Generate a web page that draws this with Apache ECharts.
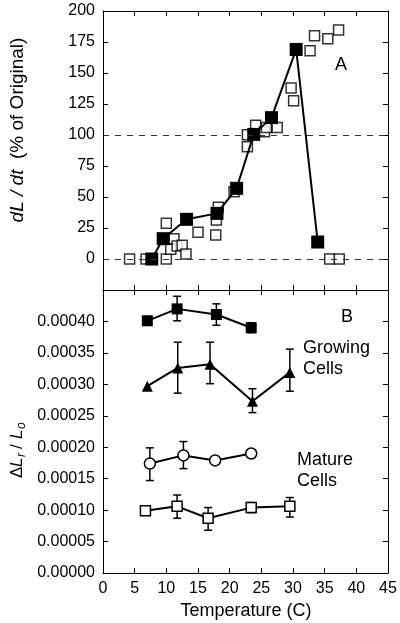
<!DOCTYPE html>
<html><head><meta charset="utf-8">
<script src="https://cdn.jsdelivr.net/npm/echarts@6/dist/echarts.min.js"></script>
<style>html,body{margin:0;padding:0;background:#fff}#c{width:400px;height:623px}</style>
</head><body><div id="c"></div>
<script>
// Panel A
const xTicks = [0,5,10,15,20,25,30,35,40,45];
const aOpenX = [4.2, 6.8, 10.0, 10.0, 10.7, 11.2, 11.7, 12.5, 13.1, 15.0, 17.8, 17.9, 18.2, 20.7, 22.8, 22.8, 24.1, 25.5, 25.8, 27.5, 29.7, 30.1, 32.7, 33.4, 35.5, 37.2, 35.8, 37.3];
const aOpenY = [0, 0, 28.8, 0, 7.8, 16.4, 10.5, 11, 4, 21.5, 19.4, 31.5, 41.7, 54.3, 90.6, 100.3, 107.8, 102.7, 106, 106, 138, 127.7, 168, 180, 177.7, 184.7, 0, 0];
const aFillX = [7.7, 9.5, 13.2, 18.0, 21.1, 23.8, 26.6, 30.5, 33.9];
const aFillY = [0, 16.4, 32, 36.8, 57, 100.5, 114, 169, 13.7];
const aRefLines = [0, 100];
// Panel B
const gSqX = [7.0, 11.7, 17.9, 23.4];
const gSqY = [0.000401, 0.000420, 0.000411, 0.000390];
const gSqLo = [0.000394, 0.000401, 0.000394, 0.000382];
const gSqHi = [0.000408, 0.000440, 0.000428, 0.000398];
const gTriX = [7.0, 11.8, 16.9, 23.6, 29.5];
const gTriY = [0.000297, 0.000326, 0.000332, 0.000273, 0.000319];
const gTriLo = [null, 0.000286, 0.000301, 0.000255, 0.000289];
const gTriHi = [null, 0.000367, 0.000367, 0.000293, 0.000356];
const mCirX = [7.4, 12.7, 17.7, 23.4];
const mCirY = [0.000174, 0.000187, 0.000179, 0.000190];
const mCirLo = [0.000147, 0.000166, null, 0.000184];
const mCirHi = [0.000199, 0.000209, null, 0.000195];
const mSqX = [6.7, 11.7, 16.6, 23.4, 29.5];
const mSqY = [0.000099, 0.000106, 0.000087, 0.000104, 0.000106];
const mSqLo = [null, 0.000087, 0.000068, 0.000096, 0.000089];
const mSqHi = [null, 0.000124, 0.000104, 0.000112, 0.000120];

const FONT = 'Liberation Sans, Arial, Helvetica, sans-serif';
const zip = (xs, ys) => xs.map((x, i) => [x, ys[i]]);
const errData = (xs, lo, hi) => xs.map((x, i) => [x, lo[i], hi[i]]).filter(d => d[1] != null);

function errSeries(xs, lo, hi) {
  return {
    type: 'custom', xAxisIndex: 2, yAxisIndex: 2, z: 1,
    data: errData(xs, lo, hi),
    renderItem: function (params, api) {
      const p1 = api.coord([api.value(0), api.value(1)]);
      const p2 = api.coord([api.value(0), api.value(2)]);
      const w = 4;
      const st = { stroke: '#000', lineWidth: 1.5 };
      return { type: 'group', children: [
        { type: 'line', shape: { x1: p1[0], y1: p1[1], x2: p2[0], y2: p2[1] }, style: st },
        { type: 'line', shape: { x1: p1[0]-w, y1: p1[1], x2: p1[0]+w, y2: p1[1] }, style: st },
        { type: 'line', shape: { x1: p2[0]-w, y1: p2[1], x2: p2[0]+w, y2: p2[1] }, style: st }
      ]};
    }
  };
}

const axLine = { show: true, onZero: false, lineStyle: { color: '#000', width: 1 } };
const tick = { show: true, inside: true, length: 5, lineStyle: { color: '#000', width: 1 } };
const xBase = { type: 'value', min: 0, max: 45, interval: 5, axisLine: axLine, axisTick: tick, splitLine: { show: false } };

const chart = echarts.init(document.getElementById('c'), null, { renderer: 'canvas' });
chart.setOption({
  animation: false,
  backgroundColor: '#fff',
  textStyle: { fontFamily: FONT },
  grid: [
    { left: 103, right: 12, top: 11, height: 279 },
    { left: 103, right: 12, top: 290, height: 283 }
  ],
  xAxis: [
    Object.assign({}, xBase, { gridIndex: 0, position: 'bottom', axisLabel: { show: false } }),
    Object.assign({}, xBase, { gridIndex: 0, position: 'top', axisLabel: { show: false } }),
    Object.assign({}, xBase, { gridIndex: 1, position: 'bottom', axisLabel: { show: true, color: '#000', fontSize: 16, fontFamily: FONT, margin: 8 } }),
    Object.assign({}, xBase, { gridIndex: 1, position: 'top', axisLabel: { show: false } })
  ],
  yAxis: [
    { type: 'value', gridIndex: 0, position: 'left', min: -25, max: 200, interval: 25, axisLine: axLine, axisTick: tick, splitLine: { show: false },
      axisLabel: { color: '#000', fontSize: 16, fontFamily: FONT, margin: 8, formatter: v => v < 0 ? '' : String(v) } },
    { type: 'value', gridIndex: 0, position: 'right', min: -25, max: 200, interval: 25, axisLine: axLine, axisTick: tick, splitLine: { show: false }, axisLabel: { show: false } },
    { type: 'value', gridIndex: 1, position: 'left', min: 0, max: 0.00045, interval: 0.00005, axisLine: axLine, axisTick: tick, splitLine: { show: false },
      axisLabel: { color: '#000', fontSize: 16, fontFamily: FONT, margin: 8, formatter: v => v > 0.000441 ? '' : v.toFixed(5) } },
    { type: 'value', gridIndex: 1, position: 'right', min: 0, max: 0.00045, interval: 0.00005, axisLine: axLine, axisTick: tick, splitLine: { show: false }, axisLabel: { show: false } }
  ],
  series: [
    { type: 'scatter', xAxisIndex: 0, yAxisIndex: 0, z: 2, data: zip(aOpenX, aOpenY), symbol: 'rect', symbolSize: 10,
      itemStyle: { color: '#fff', borderColor: '#000', borderWidth: 1.5 },
      markLine: { silent: true, symbol: 'none', label: { show: false }, lineStyle: { color: '#333', type: [6, 6], width: 1 },
        data: aRefLines.map(v => ({ yAxis: v })) } },
    { type: 'line', xAxisIndex: 0, yAxisIndex: 0, z: 3, data: zip(aFillX, aFillY), symbol: 'rect', symbolSize: 13,
      itemStyle: { color: '#000' }, lineStyle: { color: '#000', width: 2 } },
    errSeries(gSqX, gSqLo, gSqHi),
    errSeries(gTriX, gTriLo, gTriHi),
    errSeries(mCirX, mCirLo, mCirHi),
    errSeries(mSqX, mSqLo, mSqHi),
    { type: 'line', xAxisIndex: 2, yAxisIndex: 2, z: 3, data: zip(gSqX, gSqY), symbol: 'rect', symbolSize: 11,
      itemStyle: { color: '#000' }, lineStyle: { color: '#000', width: 2 } },
    { type: 'line', xAxisIndex: 2, yAxisIndex: 2, z: 3, data: zip(gTriX, gTriY), symbol: 'triangle', symbolSize: 11,
      itemStyle: { color: '#000' }, lineStyle: { color: '#000', width: 2 } },
    { type: 'line', xAxisIndex: 2, yAxisIndex: 2, z: 3, data: zip(mCirX, mCirY), symbol: 'circle', symbolSize: 11, showSymbol: true,
      itemStyle: { color: '#fff', borderColor: '#000', borderWidth: 1.5 }, lineStyle: { color: '#000', width: 2 } },
    { type: 'line', xAxisIndex: 2, yAxisIndex: 2, z: 3, data: zip(mSqX, mSqY), symbol: 'rect', symbolSize: 10,
      itemStyle: { color: '#fff', borderColor: '#000', borderWidth: 1.5 }, lineStyle: { color: '#000', width: 2 } }
  ],
  graphic: [
    { type: 'text', left: 335, top: 56, style: { text: 'A', font: '18px ' + FONT, fill: '#000' } },
    { type: 'text', left: 341, top: 308, style: { text: 'B', font: '18px ' + FONT, fill: '#000' } },
    { type: 'text', left: 303, top: 338, style: { text: 'Growing\nCells', font: '18px ' + FONT, fill: '#000', lineHeight: 21 } },
    { type: 'text', left: 297, top: 450, style: { text: 'Mature\nCells', font: '18px ' + FONT, fill: '#000', lineHeight: 21 } },
    { type: 'text', x: 246, y: 611, style: { text: 'Temperature (C)', font: '18px ' + FONT, fill: '#000', align: 'center', verticalAlign: 'middle' } },
    { type: 'text', x: 18, y: 130, rotation: Math.PI / 2,
      style: { text: '{i|dL / dt}  (% of Original)', font: '19px ' + FONT, fill: '#000', align: 'center', verticalAlign: 'middle',
        rich: { i: { fontStyle: 'italic', fontSize: 19, fontFamily: FONT } } } },
    { type: 'group', x: 17, y: 478, rotation: Math.PI / 2, children: [
      { type: 'text', x: 0, y: 0, style: { text: 'Δ', font: '17px ' + FONT, fill: '#000', verticalAlign: 'middle' } },
      { type: 'text', x: 11, y: 0, style: { text: 'L', font: 'italic 17px ' + FONT, fill: '#000', verticalAlign: 'middle' } },
      { type: 'text', x: 21, y: 5, style: { text: 'r', font: 'italic 12px ' + FONT, fill: '#000', verticalAlign: 'middle' } },
      { type: 'text', x: 29, y: 0, style: { text: '/', font: '17px ' + FONT, fill: '#000', verticalAlign: 'middle' } },
      { type: 'text', x: 39, y: 0, style: { text: 'L', font: 'italic 17px ' + FONT, fill: '#000', verticalAlign: 'middle' } },
      { type: 'text', x: 49, y: 5, style: { text: 'o', font: 'italic 12px ' + FONT, fill: '#000', verticalAlign: 'middle' } }
    ]}
  ]
});
</script></body></html>
